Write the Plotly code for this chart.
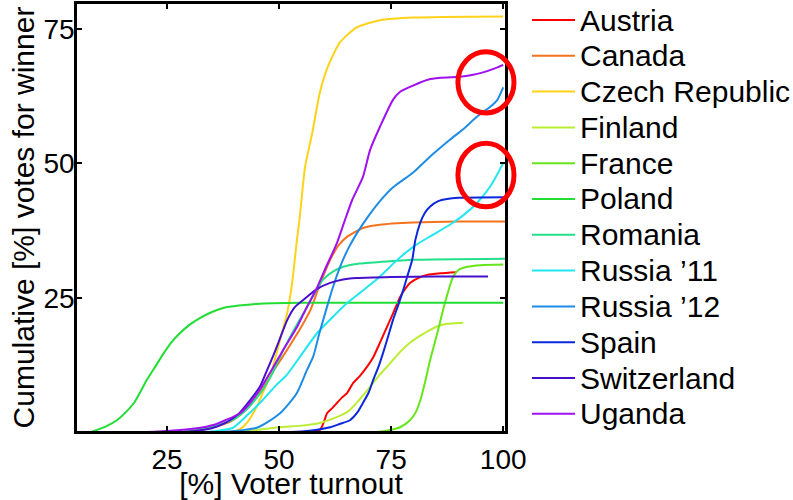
import plotly.graph_objects as go

countries = ["Austria", "Canada", "Czech Republic", "Finland", "France", "Poland",
             "Romania", "Russia \u201911", "Russia \u201912", "Spain", "Switzerland", "Uganda"]
colors = ["#FF0000", "#F5731E", "#FFD21A", "#BBEE33", "#66E61A", "#22DD33",
          "#22E08A", "#22E6F0", "#1E8CE6", "#0A28DC", "#4410CC", "#A010F0"]

austria_x = [5, 55, 59.1, 60, 60.7, 61.8, 62.9, 64, 65.2, 66.5, 68, 69.6, 71, 72.5, 74, 75.5, 77, 78.2, 79.2, 81, 83, 86, 89.5]
austria_y = [0, 0, 0.5, 2.0, 3.6, 4.5, 5.5, 6.5, 7.4, 9.2, 10.5, 12.2, 14, 16.7, 19.5, 22.3, 25.2, 26.8, 27.8, 28.7, 29.3, 29.6, 29.8]

canada_x = [5, 25, 30, 35, 39, 42, 44, 46.4, 49, 51.8, 54.5, 57, 59, 61.4, 63.3, 65.2, 68.7, 72.5, 80, 90, 100.5]
canada_y = [0, 0, 0.3, 1.0, 2.0, 3.8, 5.5, 8.3, 11.8, 15.4, 19.0, 22.8, 27.3, 32.1, 34.8, 36.4, 38.0, 38.6, 39.0, 39.2, 39.2]

czech_x = [5, 38, 41, 42.8, 45, 46.4, 48, 50.2, 51.8, 52.9, 54, 54.6, 55.2, 55.8, 57.4, 59.1, 60.9, 63.6, 67.4, 72.5, 80, 100]
czech_y = [0, 0, 0.5, 1.8, 4.8, 7.5, 10.5, 17.2, 22.2, 27.8, 36.0, 40.0, 45.0, 49.4, 55.7, 63.2, 68.0, 72.5, 75.3, 76.6, 77.1, 77.3]

finland_x = [5, 40, 45, 50, 55, 59.1, 62, 65.5, 68, 70.3, 72.5, 74.8, 77, 79.2, 81.5, 83.7, 85.5, 87.5, 89, 91.1]
finland_y = [0, 0, 0.5, 1.0, 1.3, 1.8, 2.6, 4.0, 6.2, 8.5, 10.8, 12.9, 15.0, 16.7, 18.0, 19.1, 19.8, 20.2, 20.3, 20.4]

france_x = [5, 70, 74.8, 77, 79.2, 80.5, 81.5, 82.6, 83.7, 85.3, 87.0, 88.8, 90, 92, 95, 100]
france_y = [0, 0, 0.5, 1.0, 2.3, 3.8, 6.0, 9.5, 13.5, 18.5, 24.1, 28.9, 30.2, 30.8, 31.1, 31.2]

poland_x = [5, 8, 9.4, 11.5, 13.8, 15.8, 17.6, 19, 20.5, 22.4, 24.3, 26, 27.9, 30, 32.4, 35, 37.7, 41, 45, 55, 100]
poland_y = [0, 0.1, 0.5, 1.2, 2.3, 3.8, 5.5, 7.5, 9.8, 12.3, 14.8, 16.8, 18.5, 20.0, 21.3, 22.4, 23.2, 23.6, 23.9, 24.1, 24.1]

romania_x = [5, 25, 30, 35, 40, 43, 46.4, 48.5, 50.2, 53, 56.2, 58, 59.8, 62, 64.3, 68, 72.5, 80, 100.5]
romania_y = [0, 0, 0.3, 1.0, 2.5, 4.5, 8.0, 11.0, 14.1, 18.6, 23.3, 26.0, 28.4, 29.9, 30.8, 31.4, 31.7, 32.1, 32.3]

russia11_x = [5, 30, 36, 39.7, 43, 46.4, 49, 51.8, 55, 58.5, 62, 65.2, 68.1, 72.4, 76, 79.9, 84, 88.1, 91, 94.2, 97.1, 98.9, 100]
russia11_y = [0, 0, 0.3, 0.9, 3.3, 6.1, 8.5, 10.8, 14.5, 18.5, 21.5, 24.1, 26.0, 28.9, 31.8, 34.5, 36.6, 38.6, 40.3, 42.7, 45.7, 48.3, 50.1]

russia12_x = [5, 35, 40, 45, 47.5, 50.2, 52, 54, 56.2, 57.6, 59, 60.7, 62, 63.6, 65.5, 67.4, 70, 72.5, 75.5, 79.9, 84, 88.1, 91, 94.2, 97.1, 98.7, 100]
russia12_y = [0, 0, 0.3, 0.9, 2.0, 3.6, 5.2, 7.4, 11.6, 14.1, 18.5, 23.4, 27.0, 30.8, 34.3, 37.1, 40.3, 43.0, 45.6, 48.3, 51.5, 54.4, 56.3, 58.7, 60.5, 61.8, 64.1]

spain_x = [5, 40, 55, 61.4, 63.5, 65.8, 67.5, 68.7, 70, 71, 72.2, 73.2, 74.3, 75.4, 76.5, 77.7, 78.7, 79.7, 80.4, 81.5, 82.5, 83.7, 85.5, 87.5, 90, 100.5]
spain_y = [0, 0, 0.2, 1.0, 1.6, 2.3, 3.8, 5.5, 7.5, 9.8, 12.3, 14.8, 17.8, 20.9, 23.5, 26.5, 29.3, 32.1, 35.8, 39.0, 40.8, 42.0, 43.0, 43.4, 43.6, 43.7]

switzerland_x = [5, 25, 30, 35, 38, 41, 43.5, 45.7, 47, 48.6, 50.2, 51.8, 53.5, 56.2, 58.5, 61.4, 64, 67.4, 75, 85, 96.6]
switzerland_y = [0, 0, 0.2, 0.8, 1.8, 3.5, 6.0, 8.5, 11.0, 14.1, 17.5, 20.9, 23.3, 25.2, 26.7, 27.8, 28.4, 28.7, 28.9, 29.0, 29.0]

uganda_x = [5, 20, 27.9, 31.7, 35.3, 38, 41.3, 43.5, 45.7, 48.6, 51, 54, 56, 58.5, 60.5, 62.9, 64.7, 66.3, 68.7, 70.3, 72.5, 75.4, 77, 79.2, 83, 86, 90.4, 93, 95.5, 98, 100]
uganda_y = [0, 0.1, 0.5, 0.8, 1.4, 2.3, 3.6, 5.5, 8.0, 12.0, 15.5, 19.6, 23.0, 27.0, 30.8, 35.2, 39.5, 43.2, 47.5, 52.5, 56.8, 61.8, 63.3, 64.2, 65.5, 65.9, 66.1, 66.4, 66.9, 67.6, 68.3]

series_x = [austria_x, canada_x, czech_x, finland_x, france_x, poland_x,
            romania_x, russia11_x, russia12_x, spain_x, switzerland_x, uganda_x]
series_y = [austria_y, canada_y, czech_y, finland_y, france_y, poland_y,
            romania_y, russia11_y, russia12_y, spain_y, switzerland_y, uganda_y]

x_ticks = [25, 50, 75, 100]
y_ticks = [25, 50, 75]

FONT = "Liberation Sans, Arial, Helvetica, sans-serif"
FS = 30
TICK_FS = 28

fig = go.Figure()
for name, col, xs, ys in zip(countries, colors, series_x, series_y):
    fig.add_trace(go.Scatter(x=xs, y=ys, mode="lines", name=name, showlegend=False,
                             line=dict(color=col, width=2, shape="spline", smoothing=0.6)))

# red highlight circles
for y0, y1 in [(0.745, 0.888), (0.525, 0.674)]:
    fig.add_shape(type="circle", xref="paper", yref="paper",
                  x0=0.890, x1=1.021, y0=y0, y1=y1,
                  line=dict(color="#FF0000", width=5), layer="above")

# legend drawn as line samples + text (paper coordinates)
W, H = 428.0, 427.0
row_top, row_gap = 20.0, 35.8
for i, (name, col) in enumerate(zip(countries, colors)):
    py = row_top + row_gap * i
    yp = (431 - py) / H
    fig.add_shape(type="line", xref="paper", yref="paper",
                  x0=(532 - 77) / W, x1=(575 - 77) / W, y0=yp, y1=yp,
                  line=dict(color=col, width=2))
    fig.add_annotation(xref="paper", yref="paper", x=(578 - 77) / W, y=yp,
                       xanchor="left", yanchor="middle", text=name, showarrow=False,
                       font=dict(family=FONT, size=FS, color="black"))

axis_common = dict(showline=True, linecolor="black", linewidth=2.5, mirror="ticks",
                   ticks="inside", ticklen=5, tickwidth=2, tickcolor="black",
                   showgrid=False, zeroline=False,
                   tickfont=dict(family=FONT, size=TICK_FS, color="black"))

fig.update_layout(
    width=793, height=500,
    margin=dict(l=77, r=288, t=4, b=69, autoexpand=False),
    paper_bgcolor="white", plot_bgcolor="white",
    font=dict(family=FONT, size=FS, color="black"),
    xaxis=dict(range=[4.9, 100.4], tickvals=x_ticks, ticktext=[str(v) for v in x_ticks],
               ticklabelstandoff=2,
               title=dict(text="[%] Voter turnout", font=dict(family=FONT, size=FS), standoff=3),
               **axis_common),
    yaxis=dict(range=[0.3, 79.6], tickvals=y_ticks, ticktext=[str(v) for v in y_ticks],
               ticklabelstandoff=-6,
               title=dict(text="Cumulative [%] votes for winner", font=dict(family=FONT, size=FS), standoff=0),
               **axis_common),
    showlegend=False,
)

fig.write_html("out.html", config={"displayModeBar": False},
               post_script="document.body.style.margin='0';document.body.style.overflow='hidden';")
